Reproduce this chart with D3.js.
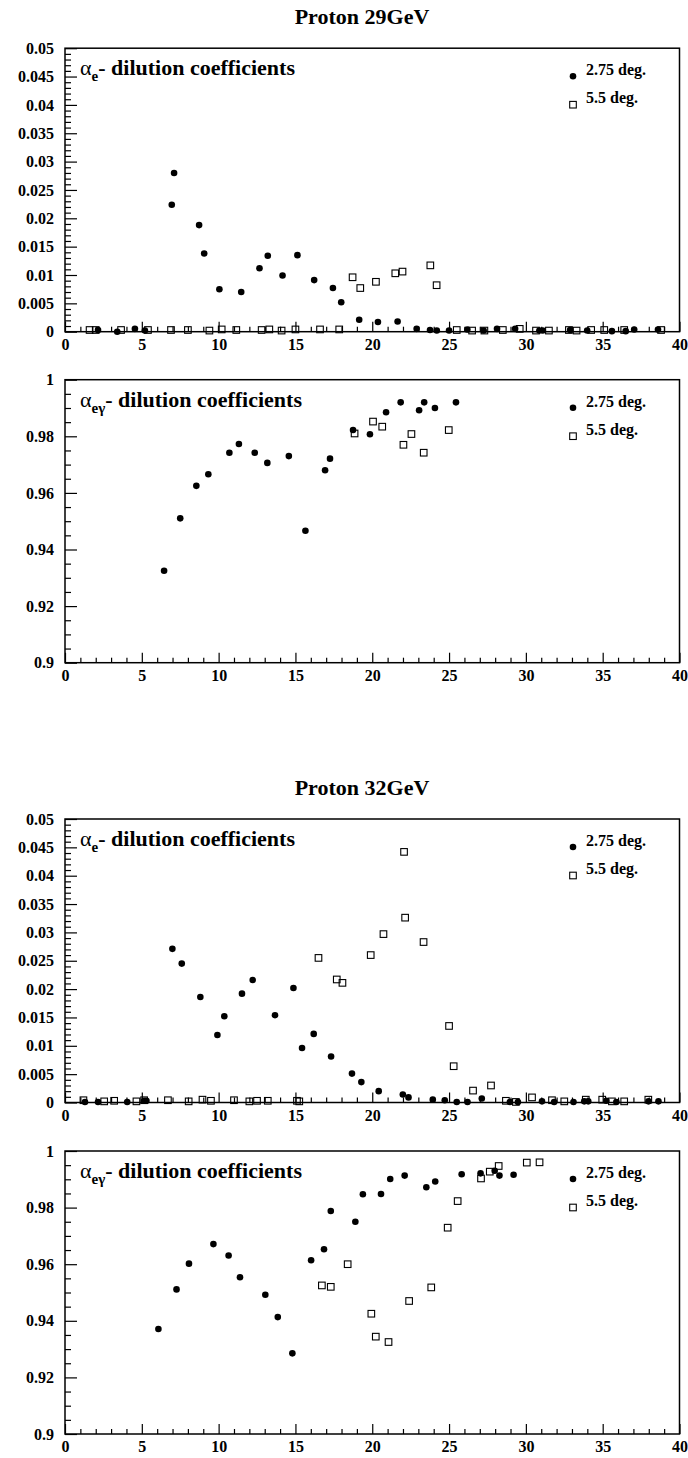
<!DOCTYPE html>
<html>
<head>
<meta charset="utf-8">
<script src="https://cdn.jsdelivr.net/npm/d3@7"></script>
<style>
  body { margin: 0; background: #fff; }
  text { font-family: "Liberation Serif", "Times New Roman", serif; font-weight: bold; fill: #000; }
</style>
</head>
<body>
<div id="chart"></div>
<script>
// tick values
var xMajor = [0, 5, 10, 15, 20, 25, 30, 35, 40];
var yMajorAe = [0, 0.005, 0.01, 0.015, 0.02, 0.025, 0.03, 0.035, 0.04, 0.045, 0.05];
var yMajorAg = [0.9, 0.92, 0.94, 0.96, 0.98, 1];

var legendLabels = ["2.75 deg.", "5.5 deg."];
var pageTitles = ["Proton 29GeV", "Proton 32GeV"];

// Proton 29GeV, alpha_e
var p29AeDeg275 = [[2.15,0.0003],[3.4,0.0],[4.55,0.0005],[5.2,0.0002],
  [6.95,0.0224],[7.1,0.028],[8.73,0.0188],[9.06,0.0138],[10.05,0.0075],[11.47,0.0070],
  [12.66,0.0112],[13.2,0.0134],[14.16,0.0099],[15.13,0.0135],[16.22,0.0091],[17.44,0.0077],
  [17.98,0.0052],[19.15,0.0021],[20.37,0.0017],[21.65,0.0018],[22.89,0.0005],[23.76,0.0003],
  [24.2,0.0002],[25.0,0.0002],[26.19,0.0004],[27.25,0.0002],[28.12,0.0005],[29.3,0.0005],
  [30.88,0.0002],[31.1,0.0002],[32.88,0.0003],[33.99,0.0002],[35.6,0.0001],[36.5,0.0001],
  [37.05,0.0004],[38.6,0.0004]];
var p29AeDeg55 = [[1.6,0.0003],[2.0,0.0003],[3.65,0.0003],[5.4,0.0003],[6.9,0.0003],[8.0,0.0003],
  [9.4,0.0002],[10.2,0.0004],[11.15,0.0003],[12.8,0.0003],[13.3,0.0004],[14.1,0.0002],
  [15.0,0.0004],[16.6,0.0004],[17.85,0.0004],
  [18.72,0.0096],[19.22,0.0077],[20.24,0.0088],[21.5,0.0103],[21.97,0.0106],[23.78,0.0117],[24.19,0.0082],
  [25.5,0.0003],[26.5,0.0002],[27.3,0.0002],[28.5,0.0003],[29.6,0.0005],[30.66,0.0002],
  [31.5,0.0002],[32.8,0.0003],[33.3,0.0002],[34.25,0.0003],[35.1,0.0003],[36.4,0.0003],[38.8,0.0003]];

// Proton 29GeV, alpha_e-gamma
var p29AgDeg275 = [[6.45,0.9325],[7.5,0.951],[8.55,0.9625],[9.33,0.9666],[10.7,0.9742],[11.32,0.9773],
  [12.35,0.9742],[13.17,0.9706],[14.57,0.973],[15.65,0.9466],[16.93,0.968],[17.25,0.9721],
  [18.75,0.9822],[19.85,0.9807],[20.9,0.9885],[21.85,0.992],[23.05,0.9892],[23.38,0.992],
  [24.08,0.990],[25.45,0.992]];
var p29AgDeg55 = [[18.85,0.981],[20.05,0.9852],[20.65,0.9834],[22.03,0.977],[22.55,0.9808],
  [23.35,0.9742],[24.98,0.9822]];

// Proton 32GeV, alpha_e
var p32AeDeg275 = [[1.3,0.0001],[2.15,0.0001],[4.05,0.0001],[5.15,0.0003],[5.3,0.0003],
  [6.99,0.0271],[7.6,0.0245],[8.81,0.0186],[9.92,0.0119],[10.37,0.0152],[11.52,0.0192],
  [12.22,0.0216],[13.67,0.0154],[14.87,0.0202],[15.43,0.0096],[16.19,0.0121],[17.32,0.0081],
  [18.68,0.0051],[19.29,0.0036],[20.42,0.002],[21.99,0.0014],[22.36,0.0009],[23.94,0.0005],
  [24.72,0.0004],[25.5,0.0001],[26.2,0.0001],[27.13,0.0007],[28.96,0.0001],[29.48,0.0001],
  [31.05,0.0002],[31.84,0.0001],[33.1,0.0001],[33.8,0.0002],[34.06,0.0002],[35.24,0.0003],
  [35.89,0.0001],[37.98,0.0002],[38.63,0.0002]];
var p32AeDeg55 = [[1.2,0.0004],[2.55,0.0002],[3.2,0.0003],[4.65,0.0002],[5.15,0.0004],[6.7,0.0004],
  [8.05,0.0002],[8.95,0.0005],[9.5,0.0003],[11.0,0.0004],[12.0,0.0002],[12.5,0.0003],[13.2,0.0003],
  [15.1,0.0003],[15.25,0.0002],
  [16.5,0.0255],[17.69,0.0217],[18.06,0.0211],[19.9,0.026],[20.73,0.0297],[22.07,0.0442],
  [22.14,0.0326],[23.34,0.0283],[25.0,0.0135],[25.3,0.0064],[26.56,0.0021],[27.73,0.003],
  [28.7,0.0003],[29.35,0.0001],[30.4,0.0009],[31.7,0.0004],[32.5,0.0002],[33.9,0.0005],
  [34.97,0.0005],[35.6,0.0002],[36.4,0.0002],[37.97,0.0005]];

// Proton 32GeV, alpha_e-gamma
var p32AgDeg275 = [[6.08,0.9371],[7.26,0.9511],[8.07,0.9602],[9.66,0.9671],[10.65,0.9631],
  [11.39,0.9554],[13.04,0.9492],[13.85,0.9413],[14.8,0.9285],[16.02,0.9614],[16.86,0.9653],
  [17.3,0.9788],[18.9,0.975],[19.39,0.9847],[20.57,0.9848],[21.17,0.9901],[22.11,0.9913],
  [23.52,0.9872],[24.1,0.9892],[25.82,0.9918],[27.05,0.9921],[27.97,0.993],[28.28,0.9913],[29.2,0.9916]];
var p32AgDeg55 = [[16.72,0.9525],[17.3,0.952],[18.4,0.96],[19.94,0.9425],[20.23,0.9344],
  [21.06,0.9325],[22.4,0.947],[23.84,0.9518],[24.91,0.9729],[25.56,0.9823],[27.08,0.9903],
  [27.65,0.9927],[28.23,0.9947],[30.06,0.9959],[30.89,0.996]];

var svgWidth = 688;
var svgHeight = 1458;

var svg = d3.select("#chart")
  .append("svg")
  .attr("width", svgWidth)
  .attr("height", svgHeight);

var left = 65, right = 679.5;
var serif = '"Liberation Serif", "Times New Roman", serif';

var xScale = d3.scaleLinear().domain([0, 40]).range([left, right]);

function fmt(d) {
  return String(+d.toFixed(3));
}

function drawPanel(top, bottom, yDomain, yMajor, yMinorStep, sub, circles, squares) {
  var y = d3.scaleLinear().domain(yDomain).range([bottom, top]);
  var g = svg.append("g");

  // minor ticks first
  var xMinor = d3.range(0, 40.01, 1).filter(d => d % 5 !== 0);
  g.append("g")
    .attr("transform", `translate(0, ${bottom})`)
    .call(d3.axisBottom(xScale).tickValues(xMinor).tickSize(-5).tickFormat(""))
    .call(a => a.select(".domain").remove());

  var yMinor = d3.range(yDomain[0], yDomain[1] + 1e-9, yMinorStep)
    .filter(v => !yMajor.some(m => Math.abs(m - v) < 1e-9));
  g.append("g")
    .attr("transform", `translate(${left}, 0)`)
    .call(d3.axisLeft(y).tickValues(yMinor).tickSize(-6).tickFormat(""))
    .call(a => a.select(".domain").remove());

  // major ticks with labels
  var xAx = g.append("g")
    .attr("transform", `translate(0, ${bottom})`)
    .call(d3.axisBottom(xScale).tickValues(xMajor).tickSize(-10).tickPadding(7).tickFormat(d3.format("d")));
  xAx.select(".domain").remove();

  var yAx = g.append("g")
    .attr("transform", `translate(${left}, 0)`)
    .call(d3.axisLeft(y).tickValues(yMajor).tickSize(-12).tickPadding(11).tickFormat(fmt));
  yAx.select(".domain").remove();

  g.selectAll(".tick line").attr("stroke", "#000").attr("stroke-width", 1.2);
  g.selectAll("g").attr("font-family", serif).attr("font-size", 16).attr("font-weight", "bold");
  g.selectAll(".tick text")
    .style("font-size", "16px")
    .style("font-family", serif)
    .style("font-weight", "bold");

  // frame
  g.append("rect")
    .attr("x", left)
    .attr("y", top)
    .attr("width", right - left)
    .attr("height", bottom - top)
    .attr("fill", "none")
    .attr("stroke", "#000")
    .attr("stroke-width", 1.5);

  // panel label
  var lab = g.append("text")
    .attr("x", 80)
    .attr("y", top + 27)
    .style("font-size", "22px");
  lab.append("tspan").style("font-weight", "normal").text("\u03b1");
  lab.append("tspan").attr("dy", 6).style("font-size", "15px").text(sub);
  lab.append("tspan").attr("dy", -6).text("- dilution coefficients");

  // points
  g.append("g").selectAll("circle")
    .data(circles)
    .enter()
    .append("circle")
    .attr("cx", d => xScale(d[0]))
    .attr("cy", d => y(d[1]))
    .attr("r", 3.3)
    .attr("fill", "#000");

  g.append("g").selectAll("rect")
    .data(squares)
    .enter()
    .append("rect")
    .attr("x", d => xScale(d[0]) - 3.3)
    .attr("y", d => y(d[1]) - 3.3)
    .attr("width", 6.6)
    .attr("height", 6.6)
    .attr("fill", "none")
    .attr("stroke", "#000")
    .attr("stroke-width", 1.1);

  // legend
  g.append("circle")
    .attr("cx", 573)
    .attr("cy", top + 28)
    .attr("r", 3.3)
    .attr("fill", "#000");
  g.append("rect")
    .attr("x", 573 - 3.3)
    .attr("y", top + 56.5 - 3.3)
    .attr("width", 6.6)
    .attr("height", 6.6)
    .attr("fill", "none")
    .attr("stroke", "#000")
    .attr("stroke-width", 1.1);
  g.append("text").attr("x", 586).attr("y", top + 27).style("font-size", "16px").text(legendLabels[0]);
  g.append("text").attr("x", 586).attr("y", top + 55).style("font-size", "16px").text(legendLabels[1]);
}

// page titles
svg.append("text").attr("x", 362).attr("y", 24).attr("text-anchor", "middle")
  .style("font-size", "22px").text(pageTitles[0]);
svg.append("text").attr("x", 362).attr("y", 795).attr("text-anchor", "middle")
  .style("font-size", "22px").text(pageTitles[1]);

drawPanel(48.2, 331.7, [0, 0.05], yMajorAe, 0.001, "e", p29AeDeg275, p29AeDeg55);
drawPanel(379.7, 662.7, [0.9, 1], yMajorAg, 0.005, "e\u03b3", p29AgDeg275, p29AgDeg55);
drawPanel(819, 1102.5, [0, 0.05], yMajorAe, 0.001, "e", p32AeDeg275, p32AeDeg55);
drawPanel(1151, 1434, [0.9, 1], yMajorAg, 0.005, "e\u03b3", p32AgDeg275, p32AgDeg55);
</script>
</body>
</html>
